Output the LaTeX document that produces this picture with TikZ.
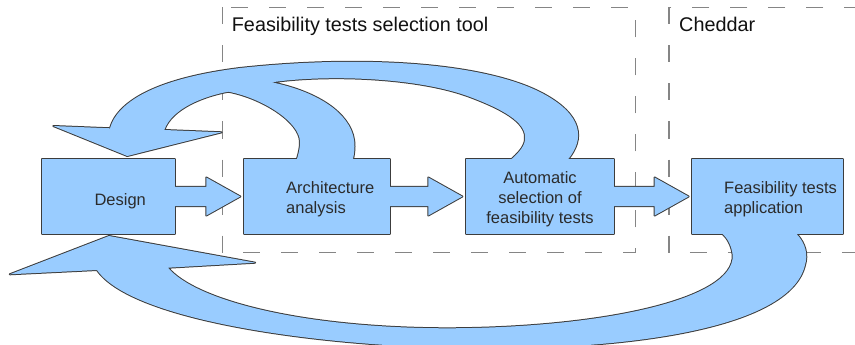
\documentclass[tikz,border=0pt]{standalone}
\usepackage{fontspec}
\setmainfont{Liberation Sans}
\usetikzlibrary{calc}
\definecolor{boxc}{HTML}{99CCFF}
\definecolor{edgec}{HTML}{3C3C3C}
\definecolor{dashc}{HTML}{858585}
\definecolor{txtc}{HTML}{2B2B2B}
\definecolor{ttlc}{HTML}{111111}
\pgfdeclarelayer{dashl}
\pgfdeclarelayer{edgel}
\pgfdeclarelayer{filll}
\pgfsetlayers{dashl,edgel,filll,main}
\newcommand\blockarrow[3]{%
  \path[#1] ($(#2.east)+(0,-9.7)$) -- ($(#3.west)+(-37.5,-9.7)$)
    -- ($(#3.west)+(-37.5,-19)$) -- ($(#3.west)+(-3.5,0)$)
    -- ($(#3.west)+(-37.5,19)$) -- ($(#3.west)+(-37.5,9.7)$)
    -- ($(#2.east)+(0,9.7)$) -- cycle;}
\newcommand\allshapes[1]{%
  \path[#1] (design.north west) rectangle (design.south east);
  \path[#1] (arch.north west) rectangle (arch.south east);
  \path[#1] (auto.north west) rectangle (auto.south east);
  \path[#1] (feas.north west) rectangle (feas.south east);
  \blockarrow{#1}{design}{arch}
  \blockarrow{#1}{arch}{auto}
  \blockarrow{#1}{auto}{feas}
  % upper feedback arrow (to Design)
  \path[#1] (127.3,156) -- (221.7,132.3) -- (164.3,130)
    .. controls (172,108) and (205,96) .. (228.3,91.7)
    .. controls (262,98) and (300,122) .. (300,142)
    .. controls (300,150) and (298,155) .. (297,159)
    -- (353,159)
    .. controls (355,150) and (355,142) .. (353,135)
    .. controls (345,108) and (310,90) .. (271.7,82.3)
    .. controls (330,74) and (420,78) .. (470,97)
    .. controls (510,112) and (527,125) .. (525,140)
    .. controls (524,148) and (516,155) .. (511.7,159)
    -- (568.3,159)
    .. controls (584,140) and (585,115) .. (540,92)
    .. controls (480,62) and (360,55) .. (240,68)
    .. controls (160,78) and (118,100) .. (110,128.3)
    -- (53.3,126) -- cycle;
  % lower feedback arrow (to Design)
  \path[#1] (109,236) -- (255.2,262.7) -- (168,267.7)
    .. controls (195,300) and (300,328) .. (447,328.3)
    .. controls (600,328) and (735,300) .. (732.7,255)
    .. controls (731.5,245) and (727,238) .. (722.7,234)
    -- (796.7,234)
    .. controls (806,244) and (808,255) .. (805,265)
    .. controls (790,330) and (620,352) .. (450,348)
    .. controls (300,344) and (130,318) .. (97,270)
    -- (9.8,274.3) -- cycle;
}
\begin{document}
\begin{tikzpicture}[x=1pt,y=-1pt,
  boxn/.style={inner sep=0, minimum height=75},
  lbl/.style={inner sep=0, text=txtc, font=\fontsize{16.5}{19.8}\selectfont},
  ttl/.style={inner sep=0, text=ttlc, font=\fontsize{19.8}{23}\selectfont},
  dashbox/.style={draw=dashc, line width=1.4pt, dash pattern=on 17pt off 21pt}]
\useasboundingbox (0,0) rectangle (855,345);
\node[boxn, minimum width=133] (design) at (108.5,196.5) {};
\node[boxn, minimum width=146] (arch) at (317,196.5) {};
\node[boxn, minimum width=148] (auto) at (540,196.5) {};
\node[boxn, minimum width=150] (feas) at (767.3,196.5) {};
\node[lbl, anchor=base west] (designt) at (94.3,205) {Design};
\node[lbl, anchor=base west, align=left] (archt) at (286,213.6) {Architecture\\analysis};
\node[lbl, anchor=base, align=center] (autot) at (540,223) {Automatic\\selection of\\feasibility tests};
\node[lbl, anchor=base west, align=left] (feast) at (724,213.6) {Feasibility tests\\application};
\node[ttl, anchor=base west] (selt) at (231.7,31.7) {Feasibility tests selection tool};
\node[ttl, anchor=base west] (chedt) at (679,31.7) {Cheddar};
\begin{pgfonlayer}{dashl}
  \draw[dashbox] (222.3,7.5) rectangle (635.7,252.7);
  \draw[dashbox] (669,7.5) rectangle (900,252.7);
\end{pgfonlayer}
\begin{pgfonlayer}{edgel}
  \allshapes{draw=edgec, line width=2pt, line join=round}
\end{pgfonlayer}
\begin{pgfonlayer}{filll}
  \allshapes{fill=boxc}
\end{pgfonlayer}
\end{tikzpicture}
\end{document}
